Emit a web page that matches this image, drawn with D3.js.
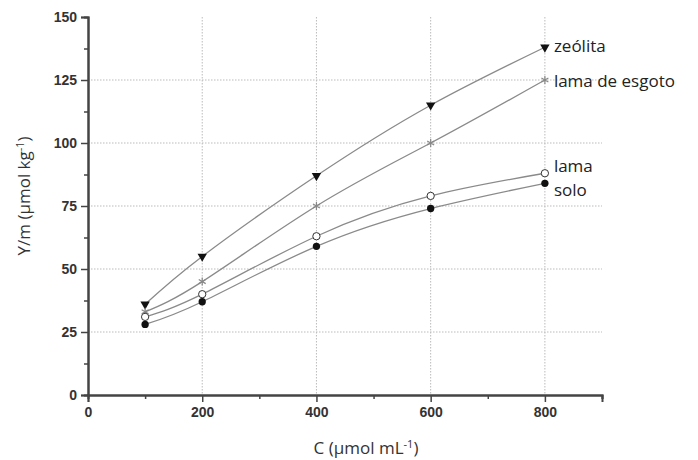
<!DOCTYPE html>
<html>
<head>
<meta charset="utf-8">
<script src="https://cdn.jsdelivr.net/npm/d3@7"></script>
<style>
  body { margin: 0; background: #fff; }
  svg { display: block; font-family: "Open Sans", "Noto Sans", sans-serif; }
</style>
</head>
<body>
<script>
// concentrations (µmol mL-1)
const conc = [100, 200, 400, 600, 800]

const zeolita = [36, 55, 87, 115, 138]
const lamaEsgoto = [33, 45, 75, 100, 125]
const lama = [31, 40, 63, 79, 88]
const solo = [28, 37, 59, 74, 84]

const series = [
  { name: 'zeólita', values: zeolita, marker: 'triangle', dy: -1 },
  { name: 'lama de esgoto', values: lamaEsgoto, marker: 'asterisk', dy: 1 },
  { name: 'lama', values: lama, marker: 'open', dy: -7 },
  { name: 'solo', values: solo, marker: 'filled', dy: 7 },
]

const xTicks = [0, 200, 400, 600, 800]
const yTicks = [0, 25, 50, 75, 100, 125, 150]

const W = 698, H = 460
const margin = { top: 17, left: 88, right: 96, bottom: 65 }

const svg = d3.select('body').append('svg')
  .attr('width', W)
  .attr('height', H)

const x = d3.scaleLinear().domain([0, 900]).range([margin.left, W - margin.right])
const y = d3.scaleLinear().domain([0, 150]).range([H - margin.bottom, margin.top])

// grid
const grid = svg.append('g')
  .attr('stroke', '#bbb')
  .attr('stroke-width', 1)
  .attr('stroke-dasharray', '1.5,1.5')

grid.selectAll('.gx').data(xTicks.filter(d => d > 0)).join('line')
  .attr('x1', d => x(d)).attr('x2', d => x(d))
  .attr('y1', y(150)).attr('y2', y(0))

grid.selectAll('.gy').data(yTicks.filter(d => d > 0 && d < 150)).join('line')
  .attr('x1', x(0)).attr('x2', x(900))
  .attr('y1', d => y(d)).attr('y2', d => y(d))

// axes
const axisColor = '#444'
const xAxis = svg.append('g')
  .attr('transform', `translate(0,${y(0)})`)
  .call(d3.axisBottom(x).tickValues(xTicks).tickSize(7).tickPadding(5))
xAxis.append('g').call(d3.axisBottom(x).tickValues([100, 300, 500, 700, 900]).tickSize(4).tickFormat(''))

const yAxis = svg.append('g')
  .attr('transform', `translate(${x(0)},0)`)
  .call(d3.axisLeft(y).tickValues(yTicks).tickSize(7).tickPadding(4))
yAxis.append('g').call(d3.axisLeft(y).tickValues(d3.range(12.5, 150, 25)).tickSize(4).tickFormat(''))

svg.selectAll('.domain').attr('stroke', axisColor).attr('stroke-width', 2)
svg.selectAll('.tick line').attr('stroke', axisColor).attr('stroke-width', 1.5)
svg.selectAll('.tick text')
  .attr('fill', '#333')
  .style('font-size', '14px')
  .style('font-weight', 600)

// axis titles
const supTitle = (sel, main) => {
  sel.append('tspan').text(main)
  sel.append('tspan').attr('dy', -6).style('font-size', '11px').text('-1')
  sel.append('tspan').attr('dy', 6).text(')')
}

svg.append('text')
  .attr('x', 366)
  .attr('y', 454)
  .attr('text-anchor', 'middle')
  .attr('fill', '#333')
  .style('font-size', '17px')
  .call(supTitle, 'C (µmol mL')

svg.append('text')
  .attr('transform', `translate(30,${y(79)}) rotate(-90)`)
  .attr('text-anchor', 'middle')
  .attr('fill', '#333')
  .style('font-size', '17px')
  .call(supTitle, 'Y/m (µmol kg')

// lines
const line = d3.line()
  .x((d, i) => x(conc[i]))
  .y(d => y(d))
  .curve(d3.curveNatural)

const plot = svg.append('g')

series.forEach(s => {
  plot.append('path')
    .attr('d', line(s.values))
    .attr('fill', 'none')
    .attr('stroke', '#8a8a8a')
    .attr('stroke-width', 1.3)
})

series.forEach(s => {
  const g = plot.append('g')
  const pts = g.selectAll('path.m').data(s.values).join('path')
    .attr('transform', (d, i) => `translate(${x(conc[i])},${y(d)})`)
  if (s.marker === 'triangle') {
    pts.attr('d', d3.symbol(d3.symbolTriangle, 38)())
      .attr('transform', (d, i) => `translate(${x(conc[i])},${y(d)}) rotate(180)`)
      .attr('fill', '#111')
  } else if (s.marker === 'asterisk') {
    pts.attr('d', d3.symbol(d3.symbolAsterisk, 45)())
      .attr('fill', 'none').attr('stroke', '#888').attr('stroke-width', 1.2)
  } else if (s.marker === 'open') {
    pts.attr('d', d3.symbol(d3.symbolCircle, 42)())
      .attr('fill', '#fff').attr('stroke', '#333').attr('stroke-width', 1)
  } else {
    pts.attr('d', d3.symbol(d3.symbolCircle, 42)())
      .attr('fill', '#111')
  }

  // series label at the last point
  const last = s.values[s.values.length - 1]
  svg.append('text')
    .attr('x', x(800) + 9)
    .attr('y', y(last) + s.dy)
    .attr('dy', '0.35em')
    .attr('fill', '#222')
    .style('font-size', '17px')
    .text(s.name)
})
</script>
</body>
</html>
